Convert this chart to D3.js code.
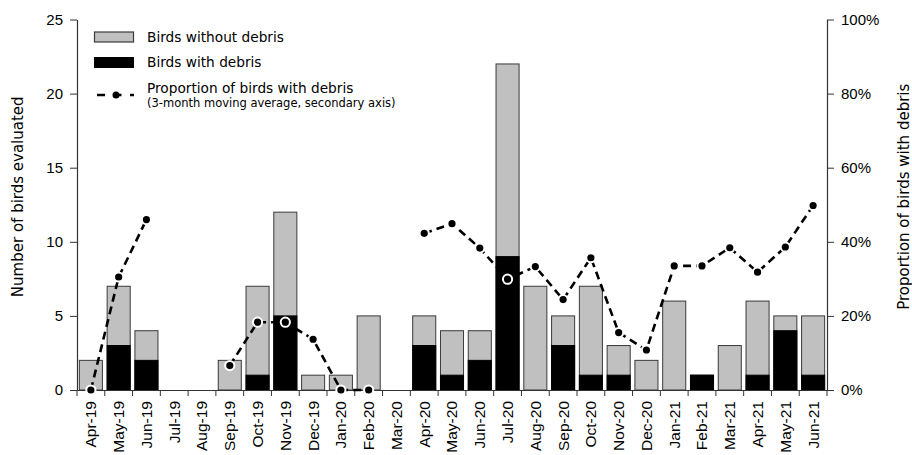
<!DOCTYPE html>
<html><head><meta charset="utf-8">
<script src="https://cdn.jsdelivr.net/npm/d3@7"></script>
<style>
html,body{margin:0;padding:0;background:#fff;}
svg{display:block;font-family:"DejaVu Sans",Verdana,sans-serif;}
</style></head>
<body><svg id="chart" width="912" height="455"></svg>
<script>
const months = ["Apr-19","May-19","Jun-19","Jul-19","Aug-19","Sep-19","Oct-19","Nov-19","Dec-19","Jan-20","Feb-20","Mar-20","Apr-20","May-20","Jun-20","Jul-20","Aug-20","Sep-20","Oct-20","Nov-20","Dec-20","Jan-21","Feb-21","Mar-21","Apr-21","May-21","Jun-21"];
const totalBirds = [2,7,4,0,0,2,7,12,1,1,5,0,5,4,4,22,7,5,7,3,2,6,1,3,6,5,5];
const withDebris = [0,3,2,0,0,0,1,5,0,0,0,0,3,1,2,9,0,3,1,1,0,0,1,0,1,4,1];
const proportion = [0,30.5,46,null,null,6.6,18.3,18.3,13.7,0,0,null,42.3,44.9,38.3,29.9,33.3,24.4,35.7,15.5,10.8,33.5,33.5,38.4,31.8,38.6,49.8];
const leftTicks = [0,5,10,15,20,25];
const rightTicks = [0,20,40,60,80,100];

const svg = d3.select("#chart");
const L = 77, R = 827, T = 19.5, B = 390;
const x = d3.scaleBand().domain(months).range([L, R]).paddingInner(0.17).paddingOuter(0.085);
const y = d3.scaleLinear().domain([0,25]).range([B, T]);
const y2 = d3.scaleLinear().domain([0,100]).range([B, T]);
const axisColor = "#333";

// bars
const g = svg.append("g");
months.forEach((m,i)=>{
  if (totalBirds[i] > 0) {
    g.append("rect").attr("x", x(m)).attr("width", x.bandwidth())
      .attr("y", y(totalBirds[i])).attr("height", y(0)-y(totalBirds[i]))
      .attr("fill","#c0c0c0").attr("stroke","#3a3a3a").attr("stroke-width",1);
  }
  if (withDebris[i] > 0) {
    g.append("rect").attr("x", x(m)).attr("width", x.bandwidth())
      .attr("y", y(withDebris[i])).attr("height", y(0)-y(withDebris[i]))
      .attr("fill","#000").attr("stroke","#000").attr("stroke-width",1);
  }
});

// axes
const xAxis = d3.axisBottom(x).tickSize(0).tickFormat(d=>d);
const xg = svg.append("g").attr("transform",`translate(0,${B})`).call(xAxis);
xg.select(".domain").attr("stroke",axisColor).attr("stroke-width",1.2);
xg.selectAll(".tick text").attr("font-size",15.5).attr("fill","#000")
  .attr("transform","rotate(-90)").attr("text-anchor","end")
  .attr("x",-11).attr("y",0).attr("dy","0.35em");
// tick marks at band boundaries
for (let i=0;i<=months.length;i++){
  const xx = L + i*(R-L)/months.length;
  svg.append("line").attr("x1",xx).attr("x2",xx).attr("y1",B).attr("y2",B+6)
    .attr("stroke",axisColor).attr("stroke-width",1);
}

const yl = svg.append("g").attr("transform",`translate(${L},0)`)
  .call(d3.axisLeft(y).tickValues(leftTicks).tickSize(7).tickPadding(7).tickSizeOuter(0));
yl.select(".domain").attr("stroke",axisColor).attr("stroke-width",1.2);
yl.selectAll(".tick line").attr("stroke",axisColor);
yl.selectAll(".tick text").attr("font-size",15).attr("fill","#000");

const yr = svg.append("g").attr("transform",`translate(${R},0)`)
  .call(d3.axisRight(y2).tickValues(rightTicks).tickFormat(d=>d+"%").tickSize(7).tickPadding(7).tickSizeOuter(0));
yr.select(".domain").attr("stroke",axisColor).attr("stroke-width",1.2);
yr.selectAll(".tick line").attr("stroke",axisColor);
yr.selectAll(".tick text").attr("font-size",15).attr("fill","#000");

// axis titles
svg.append("text").attr("transform",`translate(23,${(T+B)/2-8}) rotate(-90)`)
  .attr("text-anchor","middle").attr("font-size",15).text("Number of birds evaluated");
svg.append("text").attr("transform",`translate(904,${(T+B)/2-8}) rotate(-90)`)
  .attr("text-anchor","middle").attr("dy","0.35em").attr("font-size",15).text("Proportion of birds with debris");

// line
const cx = m => x(m) + x.bandwidth()/2;
const line = d3.line().defined(d=>d[1]!=null).x(d=>cx(d[0])).y(d=>y2(d[1]));
const pts = months.map((m,i)=>[m,proportion[i]]);
svg.append("path").attr("d",line(pts)).attr("fill","none").attr("stroke","#000")
  .attr("stroke-width",2.6).attr("stroke-dasharray","8,5");
svg.append("g").selectAll("circle").data(pts.filter(d=>d[1]!=null)).join("circle")
  .attr("cx",d=>cx(d[0])).attr("cy",d=>y2(d[1])).attr("r",4.6)
  .attr("fill","#000").attr("stroke","#fff").attr("stroke-width",2);

// legend
const lg = svg.append("g");
lg.append("rect").attr("x",94.5).attr("y",32).attr("width",39).attr("height",10)
  .attr("fill","#c0c0c0").attr("stroke","#3a3a3a").attr("stroke-width",1.2);
lg.append("text").attr("x",147).attr("y",37).attr("dy","0.35em").attr("font-size",13.7).text("Birds without debris");
lg.append("rect").attr("x",94).attr("y",57).attr("width",40).attr("height",11).attr("fill","#000");
lg.append("text").attr("x",147).attr("y",62).attr("dy","0.35em").attr("font-size",13.7).text("Birds with debris");
lg.append("line").attr("x1",97).attr("x2",134).attr("y1",95).attr("y2",95)
  .attr("stroke","#000").attr("stroke-width",2.6).attr("stroke-dasharray","8,8.5");
lg.append("circle").attr("cx",116).attr("cy",95).attr("r",3.5).attr("fill","#000");
lg.append("text").attr("x",147).attr("y",88).attr("dy","0.35em").attr("font-size",13.7).text("Proportion of birds with debris");
lg.append("text").attr("x",147).attr("y",103).attr("dy","0.35em").attr("font-size",11.5).text("(3-month moving average, secondary axis)");
</script></body></html>
